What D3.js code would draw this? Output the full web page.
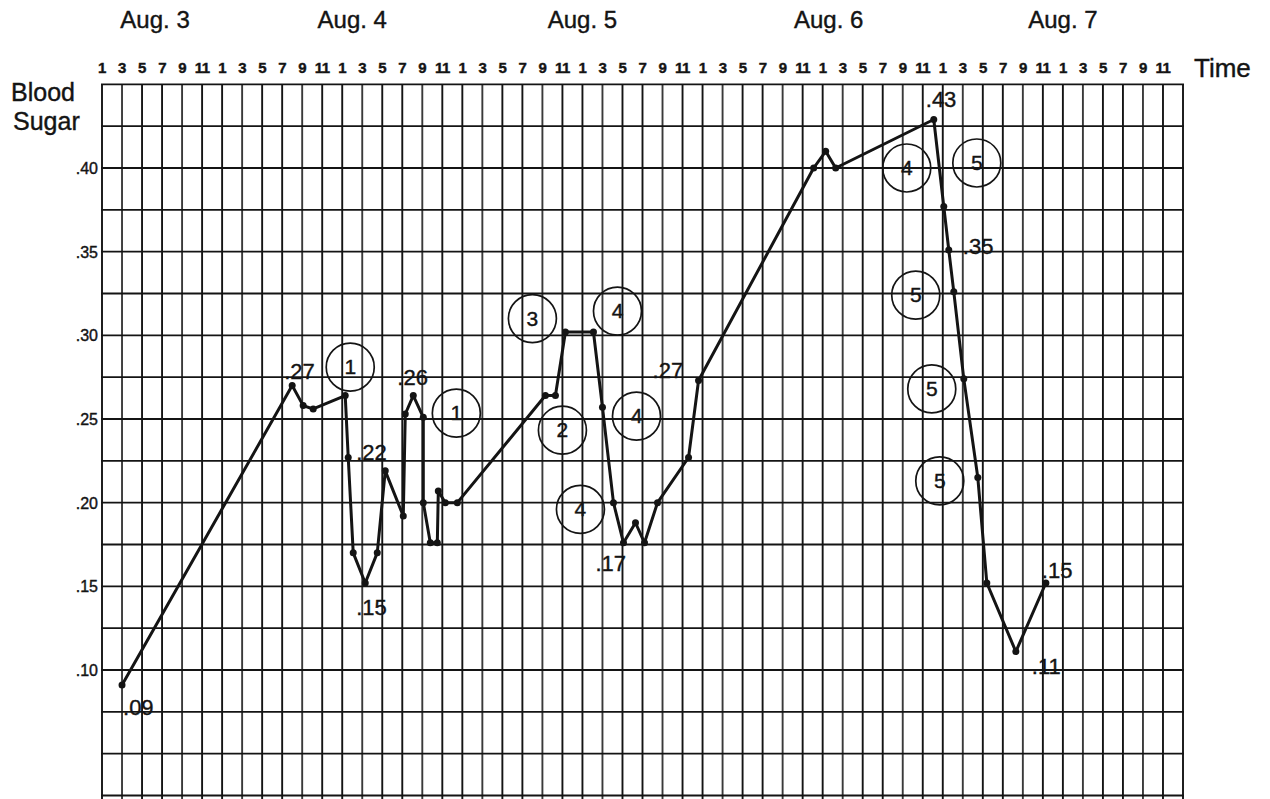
<!DOCTYPE html>
<html>
<head>
<meta charset="utf-8">
<script src="https://cdn.jsdelivr.net/npm/d3@7"></script>
<style>
  body { margin: 0; background: #fff; }
  svg { display: block; font-family: "Liberation Sans", Arial, sans-serif; }
  text { stroke: #141414; stroke-width: 0.4px; }
</style>
</head>
<body>
<svg id="chart"></svg>
<script>
// time is counted in hours from midnight at the start of Aug. 3
const hours = [15, 32, 33.1, 34.1, 37.3, 37.6, 38.1, 39.3, 40.5, 41.3,
  43.1, 43.3, 44.1, 45.1, 45.1, 45.8, 46.5, 46.6, 47.3, 48.5,
  57.3, 58.3, 59.3, 62.1, 63, 64.1, 65.1, 66.3, 67.2, 68.5,
  71.6, 72.6, 84.1, 85.3, 86.3, 96.1, 97.1, 97.6, 98.1, 99.1,
  100.5, 101.4, 104.3, 107.3];
const sugar = [0.091, 0.27, 0.258, 0.256, 0.264, 0.227, 0.17, 0.152, 0.17, 0.219,
  0.192, 0.253, 0.264, 0.251, 0.2, 0.176, 0.176, 0.207, 0.2, 0.2,
  0.264, 0.264, 0.302, 0.302, 0.257, 0.2, 0.176, 0.188, 0.176, 0.2,
  0.227, 0.273, 0.4, 0.41, 0.4, 0.429, 0.377, 0.351, 0.326, 0.274,
  0.215, 0.152, 0.111, 0.152];

// printed readings: index of the point and its text
const readingIndex = [0, 1, 12, 9, 7, 26, 31, 35, 37, 43, 42];
const readingText = [".09", ".27", ".26", ".22", ".15", ".17", ".27", ".43", ".35", ".15", ".11"];

// circled numbers
const circleHours = [37.8, 48.4, 56, 64.5, 59, 66.4, 60.8, 93.4, 100.4, 94.3, 95.9, 96.7];
const circleSugar = [0.281, 0.2535, 0.31, 0.3145, 0.2433, 0.2517, 0.196, 0.4, 0.403, 0.324, 0.268, 0.213];
const circleText = ["1", "1", "3", "4", "2", "4", "4", "4", "5", "5", "5", "5"];

const dayNames = ["Aug. 3", "Aug. 4", "Aug. 5", "Aug. 6", "Aug. 7"];
const dayHours = [18.3, 38, 61, 85.6, 109];
const sugarTicks = [0.10, 0.15, 0.20, 0.25, 0.30, 0.35, 0.40];

var width = 1270, height = 799;

var x = d3.scaleLinear().domain([13, 121]).range([102, 1183]);
var y = d3.scaleLinear().domain([0.10, 0.40]).range([670, 168]);

var svg = d3.select("#chart")
  .attr("width", width)
  .attr("height", height);

var ink = "#141414";

// grid: a line every two hours and every .025
var gridV = d3.range(13, 122, 2);
var gridH = d3.range(1, 19).map(function(k) { return k * 0.025; });

svg.append("g").selectAll("line")
  .data(gridV)
  .enter().append("line")
  .attr("x1", function(d) { return x(d); })
  .attr("x2", function(d) { return x(d); })
  .attr("y1", y(0.45))
  .attr("y2", height + 5)
  .attr("stroke", function(d, i) { return i % 3 == 1 ? "#3a3a3a" : ink; })
  .attr("stroke-width", 1.9);

svg.append("g").selectAll("line")
  .data(gridH)
  .enter().append("line")
  .attr("x1", x(13) - 1)
  .attr("x2", x(121) + 1)
  .attr("y1", function(d) { return y(d); })
  .attr("y2", function(d) { return y(d); })
  .attr("stroke", ink)
  .attr("stroke-width", 1.9);

// hour labels along the top
svg.append("g").selectAll("text")
  .data(d3.range(13, 120, 2))
  .enter().append("text")
  .attr("x", function(d) { return x(d); })
  .attr("y", 73)
  .attr("text-anchor", "middle")
  .style("font-size", "15px")
  .style("font-weight", "bold")
  .style("letter-spacing", "-0.5px")
  .attr("fill", ink)
  .text(function(d) { return ((d - 1) % 12) + 1; });

svg.append("g").selectAll("text")
  .data(dayNames)
  .enter().append("text")
  .attr("x", function(d, i) { return x(dayHours[i]); })
  .attr("y", 28)
  .attr("text-anchor", "middle")
  .style("font-size", "24px")
  .attr("fill", ink)
  .text(function(d) { return d; });

svg.append("text")
  .attr("x", 1194)
  .attr("y", 77)
  .style("font-size", "26px")
  .attr("fill", ink)
  .text("Time");

svg.append("text")
  .attr("x", 11)
  .attr("y", 101)
  .style("font-size", "25px")
  .attr("fill", ink)
  .text("Blood");

svg.append("text")
  .attr("x", 13)
  .attr("y", 130)
  .style("font-size", "25px")
  .attr("fill", ink)
  .text("Sugar");

// y labels
svg.append("g").selectAll("text")
  .data(sugarTicks)
  .enter().append("text")
  .attr("x", x(13) - 4)
  .attr("y", function(d) { return y(d) + 6; })
  .attr("text-anchor", "end")
  .style("font-size", "16px")
  .attr("fill", ink)
  .text(function(d) { return d3.format(".2f")(d).replace(/^0/, ""); });

// the curve
var points = hours.map(function(h, i) { return [h, sugar[i]]; });

var line = d3.line()
  .x(function(d) { return x(d[0]); })
  .y(function(d) { return y(d[1]); });

svg.append("path")
  .datum(points)
  .attr("d", line)
  .attr("fill", "none")
  .attr("stroke", ink)
  .attr("stroke-width", 3)
  .attr("stroke-linejoin", "round");

svg.append("g").selectAll("circle")
  .data(points)
  .enter().append("circle")
  .attr("cx", function(d) { return x(d[0]); })
  .attr("cy", function(d) { return y(d[1]); })
  .attr("r", 3.5)
  .attr("fill", ink);

// where each printed reading sits relative to its point
var readingNudge = [[1, 30], [-8, -7], [-16, -11], [-29, -11], [-9, 32], [-28, 28],
  [-46, -3], [-8, -12], [14, 4], [-4, -5], [16, 22]];

svg.append("g").selectAll("text")
  .data(readingIndex)
  .enter().append("text")
  .attr("x", function(d, i) { return x(hours[d]) + readingNudge[i][0]; })
  .attr("y", function(d, i) { return y(sugar[d]) + readingNudge[i][1]; })
  .style("font-size", "22px")
  .attr("fill", ink)
  .text(function(d, i) { return readingText[i]; });

// circled numbers
var marks = svg.append("g").selectAll("g")
  .data(circleText)
  .enter().append("g")
  .attr("transform", function(d, i) {
    return "translate(" + x(circleHours[i]) + "," + y(circleSugar[i]) + ")";
  });

marks.append("circle")
  .attr("r", 24)
  .attr("fill", "none")
  .attr("stroke", ink)
  .attr("stroke-width", 1.7);

marks.append("text")
  .attr("y", 7)
  .attr("text-anchor", "middle")
  .style("font-size", "21px")
  .attr("fill", ink)
  .text(function(d) { return d; });
</script>
</body>
</html>
